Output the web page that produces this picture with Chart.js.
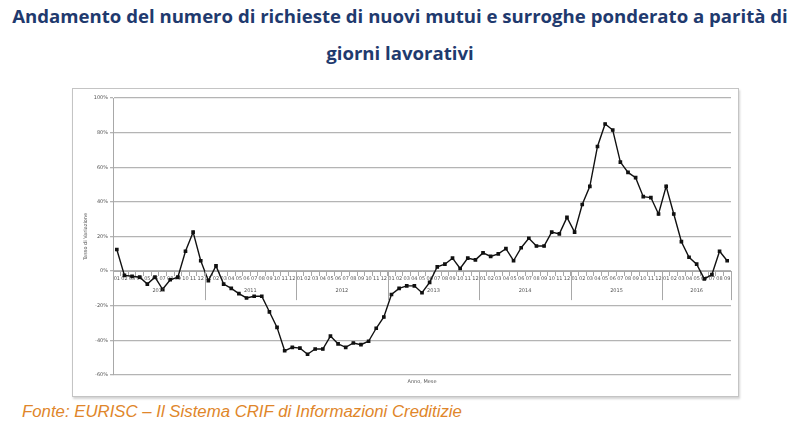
<!DOCTYPE html>
<html>
<head>
<meta charset="utf-8">
<script src="https://cdn.jsdelivr.net/npm/chart.js@4.4.0/dist/chart.umd.min.js"></script>
<style>
  body { margin: 0; width: 800px; height: 436px; position: relative; overflow: hidden; background: #fff; font-family: "Open Sans", sans-serif; }
  #title { position: absolute; left: 0; top: -3px; width: 800px; text-align: center; color: #1f3a6e; font-weight: bold; font-size: 18.6px; line-height: 37px; white-space: nowrap; }
  #box { position: absolute; left: 72px; top: 88px; width: 665px; height: 307px; border: 1px solid #c4c4c4; box-shadow: 1px 2px 2px #d4d4d4; }
  #src { position: absolute; left: 22px; top: 402px; color: #e0862a; font-style: italic; font-size: 16.8px; font-family: "Liberation Sans", sans-serif; }
</style>
</head>
<body>
<div id="title">Andamento del numero di richieste di nuovi mutui e surroghe ponderato a parità di<br>giorni lavorativi</div>
<div id="box"><canvas id="chart" width="665" height="307"></canvas></div>
<div id="src">Fonte: EURISC – Il Sistema CRIF di Informazioni Creditizie</div>
<script>
// anni e mesi presenti nel grafico
const anni = ['2010', '2011', '2012', '2013', '2014', '2015', '2016'];
const mesiPerAnno = [12, 12, 12, 12, 12, 12, 9];
const mesi = ['01', '02', '03', '04', '05', '06', '07', '08', '09', '10', '11', '12'];

// tasso di variazione (%) mese per mese
const var2010 = [12.5, -2.5, -3, -3.5, -7.5, -3.5, -10.5, -5, -3.5, 11.5, 22.5, 6];
const var2011 = [-5.5, 3, -7.5, -10, -13, -15.5, -14.5, -14.5, -23.5, -32.5, -46, -44];
const var2012 = [-44.5, -48, -45, -45, -37.5, -42, -44, -41.5, -42.5, -40.5, -33, -26.5];
const var2013 = [-13.5, -10, -8.5, -8.5, -12.5, -6.5, 2.5, 4, 7.5, 1.5, 7.5, 6.5];
const var2014 = [10.5, 8.5, 10, 13, 6, 13.5, 19, 14.5, 14.5, 22.5, 21.5, 31];
const var2015 = [22.5, 38.5, 49, 72, 85, 81.5, 63, 57, 54, 43, 42.5, 33];
const var2016 = [49, 33, 17, 8, 4, -4.5, -2, 11.5, 6];

const yTicks = [-60, -40, -20, 0, 20, 40, 60, 80, 100];

const labels = [];
anni.forEach((a, k) => {
    for (let m = 0; m < mesiPerAnno[k]; m++) labels.push(mesi[m]);
});
const valori = [].concat(var2010, var2011, var2012, var2013, var2014, var2015, var2016);

// etichette degli anni e separatori sotto l'asse
const anniPlugin = {
    id: 'anni',
    afterDraw(chart) {
        const { ctx, chartArea } = chart;
        const x = chart.scales.x, y = chart.scales.y;
        const y0 = y.getPixelForValue(0);
        ctx.save();
        ctx.strokeStyle = '#a8a8a8';
        ctx.lineWidth = 1;
        ctx.fillStyle = '#555';
        ctx.font = '5px "DejaVu Sans"';
        ctx.textAlign = 'center';
        ctx.textBaseline = 'middle';
        let start = 0;
        anni.forEach((a, k) => {
            const end = start + mesiPerAnno[k];
            const left = start === 0 ? x.left : (x.getPixelForValue(start - 1) + x.getPixelForValue(start)) / 2;
            const right = end === labels.length ? x.right : (x.getPixelForValue(end - 1) + x.getPixelForValue(end)) / 2;
            ctx.beginPath();
            ctx.moveTo(Math.round(right) + 0.5, y0);
            ctx.lineTo(Math.round(right) + 0.5, y0 + 29);
            ctx.stroke();
            if (start === 0) {
                ctx.beginPath();
                ctx.moveTo(Math.round(left) + 0.5, y0);
                ctx.lineTo(Math.round(left) + 0.5, y0 + 29);
                ctx.stroke();
            }
            ctx.fillText(a, (left + right) / 2, y0 + 20);
            start = end;
        });
        ctx.fillText('Anno, Mese', (chartArea.left + chartArea.right) / 2, chartArea.bottom + 7);
        ctx.restore();
    }
};

new Chart(document.getElementById('chart'), {
    type: 'line',
    data: {
        labels: labels,
        datasets: [{
            data: valori,
            borderColor: '#111',
            borderWidth: 1.4,
            backgroundColor: '#111',
            pointStyle: 'rect',
            pointRadius: 1.6,
            tension: 0
        }]
    },
    options: {
        responsive: false,
        animation: false,
        layout: { padding: { left: 8, right: 7, top: 9, bottom: 21 } },
        plugins: { legend: { display: false }, tooltip: { enabled: false } },
        scales: {
            x: {
                position: { y: 0 },
                offset: true,
                grid: { drawOnChartArea: false, offset: true, tickLength: 4, color: '#a8a8a8' },
                border: { color: '#a8a8a8' },
                ticks: { autoSkip: false, maxRotation: 0, padding: 1, color: '#555', font: { size: 5, family: 'DejaVu Sans' } }
            },
            y: {
                min: -60,
                max: 100,
                afterFit: (s) => { s.width = 32; },
                afterBuildTicks: (s) => { s.ticks = yTicks.map(v => ({ value: v })); },
                grid: { color: '#b4b4b4', lineWidth: 1.3, tickLength: 3 },
                border: { color: '#a8a8a8' },
                ticks: { padding: 2, color: '#555', font: { size: 5, family: 'DejaVu Sans' }, callback: (v) => v + '%' },
                title: { display: true, text: 'Tasso di Variazione', color: '#555', font: { size: 5, family: 'DejaVu Sans' }, padding: 2 }
            }
        }
    },
    plugins: [anniPlugin]
});
</script>
</body>
</html>
